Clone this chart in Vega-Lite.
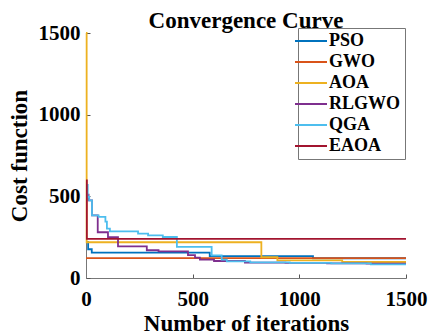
{
  "$schema": "https://vega.github.io/schema/vega-lite/v6.json",
  "autosize": {"type": "none"},
  "padding": {"left": 86, "top": 33, "right": 22, "bottom": 57},
  "width": 320,
  "height": 245,
  "background": "white",
  "title": {"text": "Convergence Curve", "font": "Liberation Serif", "fontSize": 23, "fontWeight": "bold", "color": "black", "anchor": "middle", "offset": -11},
  "config": {"view": {"stroke": null}, "font": "Liberation Serif"},
  "data": {"values": [
    {"alg": "PSO", "iter": 0, "cost": 220}, {"alg": "PSO", "iter": 10, "cost": 176}, {"alg": "PSO", "iter": 27, "cost": 155}, {"alg": "PSO", "iter": 580, "cost": 134}, {"alg": "PSO", "iter": 1064, "cost": 121}, {"alg": "PSO", "iter": 1500, "cost": 121},
    {"alg": "GWO", "iter": 0, "cost": 122}, {"alg": "GWO", "iter": 1500, "cost": 122},
    {"alg": "AOA", "iter": 0, "cost": 1500}, {"alg": "AOA", "iter": 3, "cost": 219}, {"alg": "AOA", "iter": 822, "cost": 127}, {"alg": "AOA", "iter": 897, "cost": 108}, {"alg": "AOA", "iter": 1201, "cost": 98}, {"alg": "AOA", "iter": 1500, "cost": 98},
    {"alg": "RLGWO", "iter": 0, "cost": 510}, {"alg": "RLGWO", "iter": 12, "cost": 475}, {"alg": "RLGWO", "iter": 28, "cost": 384}, {"alg": "RLGWO", "iter": 55, "cost": 280}, {"alg": "RLGWO", "iter": 103, "cost": 250}, {"alg": "RLGWO", "iter": 150, "cost": 194}, {"alg": "RLGWO", "iter": 285, "cost": 170}, {"alg": "RLGWO", "iter": 340, "cost": 163}, {"alg": "RLGWO", "iter": 478, "cost": 140}, {"alg": "RLGWO", "iter": 511, "cost": 125}, {"alg": "RLGWO", "iter": 534, "cost": 112}, {"alg": "RLGWO", "iter": 600, "cost": 104}, {"alg": "RLGWO", "iter": 745, "cost": 94}, {"alg": "RLGWO", "iter": 935, "cost": 92}, {"alg": "RLGWO", "iter": 1130, "cost": 90}, {"alg": "RLGWO", "iter": 1315, "cost": 88}, {"alg": "RLGWO", "iter": 1500, "cost": 88},
    {"alg": "QGA", "iter": 0, "cost": 570}, {"alg": "QGA", "iter": 8, "cost": 496}, {"alg": "QGA", "iter": 15, "cost": 475}, {"alg": "QGA", "iter": 28, "cost": 384}, {"alg": "QGA", "iter": 59, "cost": 374}, {"alg": "QGA", "iter": 91, "cost": 345}, {"alg": "QGA", "iter": 98, "cost": 302}, {"alg": "QGA", "iter": 112, "cost": 286}, {"alg": "QGA", "iter": 244, "cost": 272}, {"alg": "QGA", "iter": 291, "cost": 261}, {"alg": "QGA", "iter": 360, "cost": 251}, {"alg": "QGA", "iter": 426, "cost": 190}, {"alg": "QGA", "iter": 589, "cost": 139}, {"alg": "QGA", "iter": 636, "cost": 112}, {"alg": "QGA", "iter": 660, "cost": 102}, {"alg": "QGA", "iter": 770, "cost": 96}, {"alg": "QGA", "iter": 955, "cost": 93}, {"alg": "QGA", "iter": 1150, "cost": 90}, {"alg": "QGA", "iter": 1335, "cost": 84}, {"alg": "QGA", "iter": 1500, "cost": 84},
    {"alg": "EAOA", "iter": 0, "cost": 598}, {"alg": "EAOA", "iter": 4, "cost": 240}, {"alg": "EAOA", "iter": 1500, "cost": 240}
  ]},
  "mark": {"type": "line", "interpolate": "step-after", "strokeWidth": 1.8},
  "encoding": {
    "x": {"field": "iter", "type": "quantitative", "scale": {"domain": [0, 1500], "nice": false},
      "axis": {"title": "Number of iterations", "values": [0, 500, 1000, 1500], "format": "d", "grid": false, "domainColor": "#777", "tickColor": "#555", "tickSize": -4, "labelPadding": 14, "labelFontSize": 21, "labelFontWeight": "bold", "labelColor": "black", "titleFontSize": 23, "titleFontWeight": "bold", "titleColor": "black", "titlePadding": 3, "labelFlush": false}},
    "y": {"field": "cost", "type": "quantitative", "scale": {"domain": [0, 1500], "nice": false},
      "axis": {"title": "Cost function", "values": [0, 500, 1000, 1500], "format": "d", "grid": false, "domainColor": "#777", "tickColor": "#555", "tickSize": -4, "labelPadding": 10, "labelFontSize": 21, "labelFontWeight": "bold", "labelColor": "black", "titleFontSize": 23, "titleFontWeight": "bold", "titleColor": "black", "titlePadding": 7}},
    "color": {"field": "alg", "type": "nominal",
      "scale": {"domain": ["PSO", "GWO", "AOA", "RLGWO", "QGA", "EAOA"], "range": ["#0072BD", "#D95319", "#EDB120", "#7E2F8E", "#4DBEEE", "#A2142F"]},
      "legend": {"title": null, "orient": "none", "legendX": 212, "legendY": -5, "symbolType": "M-2,0H2", "symbolSize": 256, "symbolStrokeWidth": 2, "labelFontSize": 18, "labelFontWeight": "bold", "labelColor": "black", "labelOffset": 9, "rowPadding": 3, "padding": 4, "strokeColor": "#777", "fillColor": "white"}},
    "order": {"field": "iter", "type": "quantitative"}
  }
}
